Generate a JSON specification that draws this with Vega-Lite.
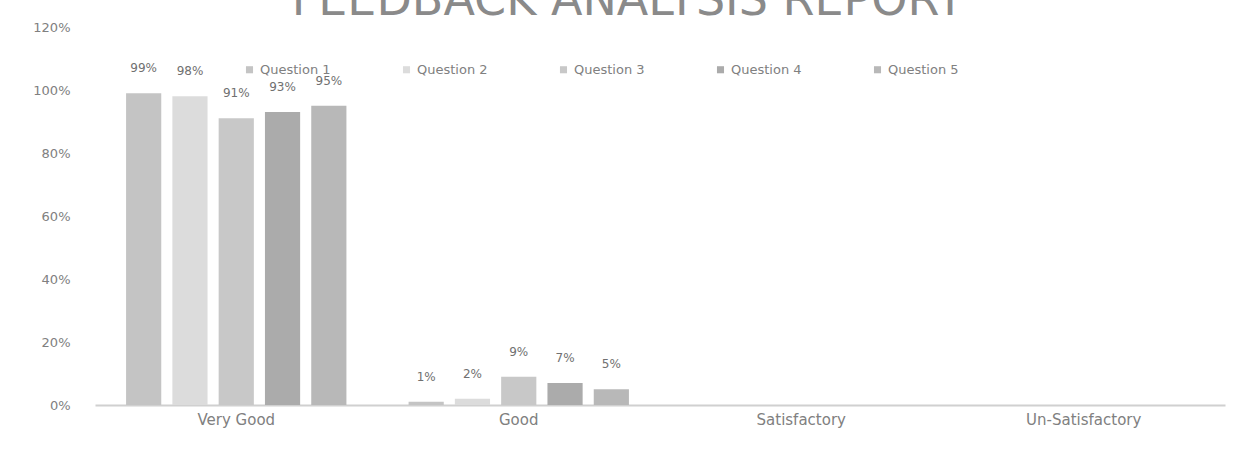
{
  "$schema": "https://vega.github.io/schema/vega-lite/v6.json",
  "width": 1130,
  "height": 378,
  "autosize": {"type": "none"},
  "padding": {"left": 95, "top": 27, "right": 11, "bottom": 54},
  "background": "white",
  "config": {"view": {"stroke": null}, "font": "DejaVu Sans"},
  "title": {
    "text": "FEEDBACK ANALYSIS REPORT",
    "fontSize": 46,
    "fontWeight": "normal",
    "color": "#8a8a8a",
    "anchor": "middle",
    "offset": 0,
    "dy": 40,
    "dx": -32,
    "baseline": "alphabetic",
    "font": "DejaVu Sans"
  },
  "data": {
    "values": [
      {"rating": "Very Good", "question": "Question 1", "value": 0.99},
      {"rating": "Very Good", "question": "Question 2", "value": 0.98},
      {"rating": "Very Good", "question": "Question 3", "value": 0.91},
      {"rating": "Very Good", "question": "Question 4", "value": 0.93},
      {"rating": "Very Good", "question": "Question 5", "value": 0.95},
      {"rating": "Good", "question": "Question 1", "value": 0.01},
      {"rating": "Good", "question": "Question 2", "value": 0.02},
      {"rating": "Good", "question": "Question 3", "value": 0.09},
      {"rating": "Good", "question": "Question 4", "value": 0.07},
      {"rating": "Good", "question": "Question 5", "value": 0.05},
      {"rating": "Satisfactory", "question": "Question 1", "value": 0},
      {"rating": "Satisfactory", "question": "Question 2", "value": 0},
      {"rating": "Satisfactory", "question": "Question 3", "value": 0},
      {"rating": "Satisfactory", "question": "Question 4", "value": 0},
      {"rating": "Satisfactory", "question": "Question 5", "value": 0},
      {"rating": "Un-Satisfactory", "question": "Question 1", "value": 0},
      {"rating": "Un-Satisfactory", "question": "Question 2", "value": 0},
      {"rating": "Un-Satisfactory", "question": "Question 3", "value": 0},
      {"rating": "Un-Satisfactory", "question": "Question 4", "value": 0},
      {"rating": "Un-Satisfactory", "question": "Question 5", "value": 0}
    ]
  },
  "encoding": {
    "x": {
      "field": "rating",
      "type": "nominal",
      "sort": ["Very Good", "Good", "Satisfactory", "Un-Satisfactory"],
      "scale": {"paddingInner": 0.22, "paddingOuter": 0.11},
      "axis": {
        "title": null,
        "labelAngle": 0,
        "labelFontSize": 15,
        "labelColor": "#808080",
        "labelPadding": 7,
        "ticks": false,
        "domainColor": "#d0d0d0",
        "domainWidth": 2
      }
    },
    "xOffset": {
      "field": "question",
      "type": "nominal",
      "scale": {"paddingInner": 0.24, "paddingOuter": 0}
    },
    "y": {
      "field": "value",
      "type": "quantitative",
      "scale": {"domain": [0, 1.2]},
      "axis": {
        "title": null,
        "format": ".0%",
        "values": [0, 0.2, 0.4, 0.6, 0.8, 1.0, 1.2],
        "labelFontSize": 13,
        "labelColor": "#808080",
        "labelPadding": 25,
        "ticks": false,
        "domain": false,
        "grid": false
      }
    }
  },
  "layer": [
    {
      "mark": {"type": "bar"},
      "encoding": {
        "color": {
          "field": "question",
          "type": "nominal",
          "scale": {
            "domain": ["Question 1", "Question 2", "Question 3", "Question 4", "Question 5"],
            "range": ["#c4c4c4", "#dcdcdc", "#c8c8c8", "#ababab", "#b8b8b8"]
          },
          "legend": {
            "title": null,
            "orient": "none",
            "direction": "horizontal",
            "legendX": 148,
            "legendY": 36,
            "symbolType": "square",
            "symbolSize": 50,
            "labelFontSize": 13,
            "labelColor": "#808080",
            "columnPadding": 69,
            "symbolStrokeWidth": 0
          }
        }
      }
    },
    {
      "mark": {"type": "text", "dy": -25, "fontSize": 12, "color": "#707070", "baseline": "middle"},
      "transform": [{"filter": "datum.value > 0"}],
      "encoding": {
        "text": {"field": "value", "type": "quantitative", "format": ".0%"}
      }
    }
  ]
}
